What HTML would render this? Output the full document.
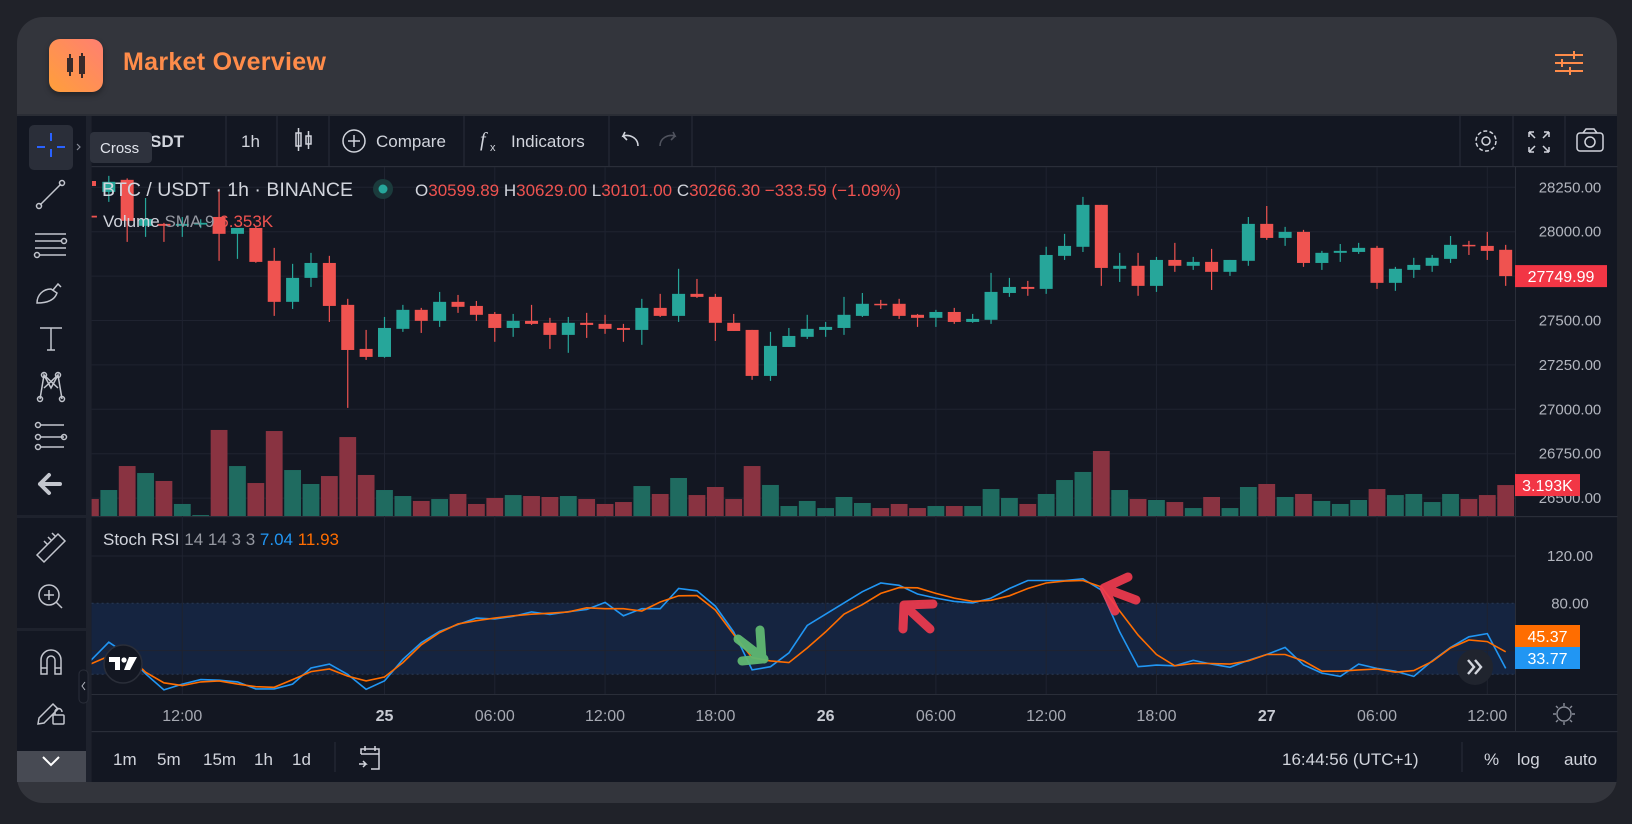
<!DOCTYPE html>
<html><head><meta charset="utf-8"><style>
*{margin:0;padding:0;box-sizing:border-box}
body{width:1632px;height:824px;background:#202229;overflow:hidden;font-family:"Liberation Sans",sans-serif;position:relative}
#card{position:absolute;left:17px;top:17px;width:1600px;height:786px;background:#33353c;border-radius:26px;overflow:hidden}
#chartbg{position:absolute;left:0;top:99px;width:1600px;height:666px;background:#131722}
#icon{position:absolute;left:32px;top:22px;width:54px;height:53px;border-radius:11px;background:linear-gradient(225deg,#ff7f72,#ff9f3a);box-shadow:0 3px 6px rgba(0,0,0,.35)}
#title{position:absolute;left:106px;top:31px;font-size:25px;font-weight:bold;color:#ff8c4a;letter-spacing:.3px}
svg#c{position:absolute;left:0;top:0}
</style></head><body>
<div id="card">
  <div id="icon">
    <svg width="54" height="53"><rect x="18" y="19" width="6" height="14" fill="#3a2a2a"/><line x1="21" y1="15" x2="21" y2="37" stroke="#3a2a2a" stroke-width="2"/><rect x="30" y="17" width="6" height="18" fill="#3a2a2a"/><line x1="33" y1="14" x2="33" y2="39" stroke="#3a2a2a" stroke-width="2"/></svg>
  </div>
  <div id="title">Market Overview</div>
  <div id="chartbg"></div>
</div>
<svg id="c" width="1632" height="824" xmlns="http://www.w3.org/2000/svg" font-family="Liberation Sans, sans-serif">
  <g id="static"></g>
  <g id="dyn"></g>
</svg>
<script>
// ---- data ----
const hours=[-16,-15,-14,-13,-12,-11,-10,-9,-8,-7,-6,-5,-4,-3,-2,-1,0,1,2,3,4,5,6,7,8,9,10,11,12,13,14,15,16,17,18,19,20,21,22,23,24,25,26,27,28,29,30,31,32,33,34,35,36,37,38,39,40,41,42,43,44,45,46,47,48,49,50,51,52,53,54,55,56,57,58,59,60,61];
const opens=[28090,28224,28292,28033,28044,28033,28040,28083,27988,28021,27836,27605,27740,27824,27588,27340,27295,27453,27560,27498,27605,27582,27537,27458,27498,27487,27419,27487,27481,27458,27447,27571,27526,27650,27633,27487,27447,27188,27351,27408,27447,27458,27526,27594,27594,27532,27515,27548,27492,27504,27655,27689,27678,27864,27915,28151,27791,27808,27695,27841,27808,27830,27774,27836,28044,27965,27999,27824,27881,27886,27909,27712,27785,27808,27847,27926,27920,27898];
const highs=[28130,28314,28300,28190,28050,28083,28070,28241,28021,28030,27909,27819,27881,27864,27622,27447,27520,27588,27571,27661,27644,27610,27548,27537,27588,27515,27520,27543,27532,27481,27622,27650,27791,27734,27650,27537,27447,27436,27458,27532,27492,27633,27655,27616,27622,27537,27560,27571,27537,27768,27740,27723,27915,27988,28196,28151,27881,27881,27858,27937,27858,27903,27841,28083,28145,28027,28010,27892,27931,27937,27920,27802,27853,27869,27976,27948,27999,27926];
const lows=[28060,28168,27943,27971,27943,27971,28020,27836,27847,27825,27526,27565,27689,27492,27008,27278,27290,27436,27430,27464,27543,27498,27380,27408,27475,27340,27318,27402,27425,27380,27363,27520,27492,27627,27385,27441,27166,27160,27351,27396,27408,27419,27520,27565,27509,27464,27464,27481,27487,27481,27633,27639,27650,27841,27886,27695,27717,27639,27661,27774,27785,27672,27751,27808,27954,27920,27802,27785,27830,27875,27678,27667,27740,27774,27824,27869,27841,27695];
const closes=[28080,28281,28061,28072,28033,28044,28050,27988,28021,27830,27605,27740,27824,27582,27334,27295,27458,27560,27498,27605,27577,27532,27458,27498,27481,27419,27487,27475,27453,27447,27571,27526,27650,27633,27487,27441,27188,27357,27413,27453,27464,27532,27594,27588,27526,27515,27548,27492,27509,27661,27689,27678,27869,27920,28151,27796,27808,27695,27841,27808,27830,27774,27841,28044,27965,27999,27824,27881,27892,27909,27712,27791,27813,27853,27926,27920,27892,27749.99];
const volumes=[1.75,2.68,5.15,4.43,3.61,1.24,0.1,8.87,5.15,3.40,8.76,4.74,3.30,4.12,8.14,4.23,2.68,2.06,1.55,1.75,2.27,1.24,1.86,2.16,2.06,1.96,2.06,1.75,1.24,1.44,3.09,2.27,3.92,2.16,2.99,1.75,5.15,3.20,1.03,1.55,0.82,1.96,1.34,0.82,1.24,0.82,1.03,1.03,1.03,2.78,1.86,1.24,2.27,3.71,4.54,6.70,2.68,1.75,1.65,1.44,0.82,1.96,0.82,2.99,3.30,1.96,2.27,1.55,1.24,1.65,2.78,2.16,2.27,1.44,2.27,1.75,2.16,3.19];
const stochK=[31.3,47.1,36.7,20.4,6.8,11.7,15.5,15.0,13.6,7.6,7.6,11.7,25.3,28.6,19.9,7.3,14.4,32.7,46.8,56.3,62.1,67.5,66.7,68.9,72.7,70.5,72.9,74.8,80.8,69.4,75.4,75.4,92.5,90.6,77.6,55.8,23.7,26.4,38.1,61.2,70.8,80.3,89.8,97.2,95.2,87.9,84.4,81.6,80.3,84.4,92.5,99.3,99.3,99.3,100.7,91.2,55.8,26.4,27.8,27.2,31.8,28.6,25.9,31.8,36.7,42.7,28.0,21.0,18.2,28.6,25.0,22.6,18.2,31.3,42.7,51.7,54.4,25.0];
const stochD=[28.6,35.4,36.7,21.8,12.8,10.4,13.6,14.4,11.7,9.5,9.0,15.5,22.3,24.5,18.5,14.4,17.7,29.9,44.9,55.2,62.6,65.3,67.5,69.4,70.8,71.6,72.7,76.2,75.4,75.4,73.5,81.1,86.3,86.5,74.3,53.6,34.0,31.3,29.9,42.2,55.8,70.8,78.9,88.4,93.3,93.1,88.4,84.4,81.6,82.5,86.3,92.5,97.2,98.8,99.3,93.9,73.5,53.1,36.7,27.2,29.1,29.1,28.6,31.3,36.7,36.7,31.3,22.6,22.6,23.7,24.5,21.8,23.1,30.8,42.2,49.0,47.6,39.0];
const priceTicks=[28250,28000,27750,27500,27250,27000,26750,26500];
const priceTickLabels=["28250.00","28000.00","27750.00","27500.00","27250.00","27000.00","26750.00","26500.00"];
const stochTicks=[120,80];
const stochTickLabels=["120.00","80.00"];
const timeTickHours=[-11,0,6,12,18,24,30,36,42,48,54,60];
const timeTickLabels=["12:00","25","06:00","12:00","18:00","26","06:00","12:00","18:00","27","06:00","12:00"];
const lastPriceLabel="27749.99";
const lastVolumeLabel="3.193K";
const stochDLabel="45.37";
const stochKLabel="33.77";

// ---- axes ----
const PL=91.6, PR=1515;
function xH(h){return 384.5+h*18.38;}
function yP(p){return 187.3+(28250-p)*0.1776;}
function yV(v){return 516-v*9.7;}
function yS(v){return 603.3+(80-v)*1.183;}

const NS="http://www.w3.org/2000/svg";
const S=document.getElementById('static'), D=document.getElementById('dyn');
function mk(tag,at,parent,txt){const e=document.createElementNS(NS,tag);for(const k in at)e.setAttribute(k,at[k]);if(txt!==undefined)e.textContent=txt;(parent||D).appendChild(e);return e;}

// ---- static chrome ----
S.innerHTML=`
<defs><clipPath id="mainclip"><rect x="91.6" y="167" width="1423.4" height="349"/></clipPath>
<clipPath id="stochclip"><rect x="91.6" y="517" width="1423.4" height="177"/></clipPath></defs>
<rect x="17" y="114" width="1600" height="2" fill="#2a2d35"/>
<rect x="17" y="116" width="69" height="666" fill="#131722"/>
<rect x="86" y="116" width="5.6" height="666" fill="#1e222d"/>
<rect x="17" y="515" width="69" height="3" fill="#1e222d"/>
<rect x="17" y="628" width="69" height="3" fill="#1e222d"/>
<rect x="91.6" y="166" width="1526" height="1.2" fill="#2a2e39"/>
<rect x="91.6" y="516" width="1526" height="1.2" fill="#2a2e39"/>
<rect x="91.6" y="694" width="1526" height="1" fill="#2a2e39"/>
<rect x="91.6" y="731" width="1526" height="1.2" fill="#2a2e39"/>
<rect x="1515" y="167" width="1" height="565" fill="#2a2e39"/>
<rect x="91.6" y="603.3" width="1423.4" height="71" fill="#152440"/>
<g stroke="#2a2e39" stroke-width="1">
 <line x1="226" y1="116" x2="226" y2="166"/><line x1="277" y1="116" x2="277" y2="166"/><line x1="329" y1="116" x2="329" y2="166"/>
 <line x1="464" y1="116" x2="464" y2="166"/><line x1="609" y1="116" x2="609" y2="166"/><line x1="692" y1="116" x2="692" y2="166"/>
 <line x1="1460" y1="116" x2="1460" y2="166"/><line x1="1513" y1="116" x2="1513" y2="166"/><line x1="1565" y1="116" x2="1565" y2="166"/>
 <line x1="335" y1="742" x2="335" y2="772"/><line x1="1462" y1="742" x2="1462" y2="772"/>
</g>
<g fill="#d1d4dc" font-size="17">
 <text x="150" y="147" font-weight="bold">SDT</text>
 <text x="241" y="147">1h</text>
 <text x="376" y="147">Compare</text>
 <text x="511" y="147">Indicators</text>
 <text x="480" y="146" font-style="italic" font-family="Liberation Serif, serif" font-size="20">f</text>
 <text x="490" y="151" font-size="11">x</text>
</g>
<g stroke="#d1d4dc" fill="none" stroke-width="1.5">
 <rect x="296" y="133" width="5" height="13"/><line x1="298.5" y1="128" x2="298.5" y2="151"/><rect x="306" y="136" width="5" height="8"/><line x1="308.5" y1="131" x2="308.5" y2="149"/>
</g>
<g stroke="#d1d4dc" fill="none" stroke-width="1.5"><circle cx="354" cy="141" r="11"/><line x1="348" y1="141" x2="360" y2="141"/><line x1="354" y1="135" x2="354" y2="147"/></g>
<path d="M638 146 C638 138 630 134 623 136 L625 132 M623 136 L627 140" stroke="#d1d4dc" fill="none" stroke-width="1.6"/>
<path d="M660 146 C660 138 668 134 675 136 L673 132 M675 136 L671 140" stroke="#50535e" fill="none" stroke-width="1.6"/>
<g stroke="#d1d4dc" fill="none" stroke-width="1.5"><circle cx="1486" cy="141" r="4"/><circle cx="1486" cy="141" r="10" stroke-dasharray="4 2.3"/></g>
<g stroke="#d1d4dc" fill="none" stroke-width="1.5">
 <path d="M1529 132 h5 M1529 132 v5 M1529 132 l6 6 M1549 132 h-5 M1549 132 v5 M1549 132 l-6 6 M1529 152 h5 M1529 152 v-5 M1529 152 l6 -6 M1549 152 h-5 M1549 152 v-5 M1549 152 l-6 -6"/></g>
<g stroke="#d1d4dc" fill="none" stroke-width="1.5"><rect x="1577" y="133" width="26" height="18" rx="3"/><path d="M1583 133 l3 -4 h8 l3 4"/><circle cx="1590" cy="142" r="5"/></g>
<rect x="29" y="125" width="44" height="45" rx="5" fill="#2a2e39"/>
<g stroke="#2962ff" stroke-width="2"><line x1="51" y1="133" x2="51" y2="141"/><line x1="51" y1="149" x2="51" y2="157"/><line x1="37" y1="147" x2="45" y2="147"/><line x1="57" y1="147" x2="65" y2="147"/></g>
<path d="M77 144 l3 3 l-3 3" stroke="#8a8e99" fill="none" stroke-width="1.2"/>
<g stroke="#c3c6ce" fill="none" stroke-width="1.5">
 <g><line x1="40" y1="205" x2="61" y2="184"/><circle cx="39" cy="206" r="2.5"/><circle cx="62" cy="183" r="2.5"/></g>
 <g><line x1="35" y1="234" x2="66" y2="234"/><line x1="35" y1="241" x2="62" y2="241"/><line x1="35" y1="248" x2="66" y2="248"/><line x1="40" y1="255" x2="66" y2="255"/><circle cx="64" cy="241" r="2.5"/><circle cx="37" cy="255" r="2.5"/></g>
 <path d="M37 303 c0-8 6-14 14-14 l6 4 c-2 6-8 10-20 10 z M53 290 l5-6 l3 3"/>
 <g><line x1="40" y1="328" x2="62" y2="328"/><line x1="51" y1="328" x2="51" y2="350"/><line x1="47" y1="350" x2="55" y2="350"/></g>
 <g><path d="M40 399 L44 375 L51 388 L58 375 L62 399 M44 375 L58 388 M58 375 L44 388"/><circle cx="40" cy="399" r="2.5"/><circle cx="62" cy="399" r="2.5"/><circle cx="44" cy="375" r="2.5"/><circle cx="58" cy="375" r="2.5"/></g>
 <g><line x1="40" y1="425" x2="64" y2="425"/><line x1="40" y1="437" x2="64" y2="437"/><line x1="40" y1="447" x2="64" y2="447"/><circle cx="38" cy="425" r="2.5"/><circle cx="38" cy="437" r="2.5"/><circle cx="38" cy="447" r="2.5"/><circle cx="64" cy="437" r="2.5"/></g>
 <g><path d="M37 555 L58 534 L65 541 L44 562 Z M44 541 l3 3 M48 537 l3 3 M52 533 l3 3"/></g>
 <g><circle cx="49" cy="595" r="10"/><line x1="56" y1="602" x2="62" y2="608"/><line x1="44" y1="595" x2="54" y2="595"/><line x1="49" y1="590" x2="49" y2="600"/></g>
 <g><path d="M41 674 v-14 a10 10 0 0 1 20 0 v14 h-6 v-14 a4 4 0 0 0 -8 0 v14 z M41 668 h6 M55 668 h6"/></g>
 <g><path d="M39 718 l14-14 l5 5 l-14 14 l-6 1 z"/><rect x="53" y="715" width="11" height="9" rx="1"/><path d="M55 715 v-3 a3.5 3.5 0 0 1 7 0"/></g>
</g>
<path d="M40 484 l9-9 M40 484 l9 9 M40 484 h20" stroke="#c3c6ce" stroke-width="4" fill="none" stroke-linecap="round"/>
<rect x="17" y="751" width="69" height="31" fill="#474a53"/>
<path d="M43 757 l8 8 l8 -8" stroke="#fff" stroke-width="2" fill="none"/>
<rect x="79" y="670" width="9" height="33" rx="4" fill="#131722" stroke="#2a2e39"/>
<path d="M85 682 l-3 4 l3 4" stroke="#b2b5be" fill="none"/>
<rect x="90" y="132" width="62" height="31" rx="4" fill="#2e323d"/>
<text x="100" y="153" fill="#e0e3eb" font-size="15">Cross</text>
<g fill="#d1d4dc" font-size="17">
 <text x="113" y="765">1m</text>
 <text x="157" y="765">5m</text>
 <text x="203" y="765">15m</text>
 <text x="254" y="765">1h</text>
 <text x="292" y="765">1d</text>
 <text x="1282" y="765">16:44:56 (UTC+1)</text>
 <text x="1484" y="765">%</text>
 <text x="1517" y="765">log</text>
 <text x="1564" y="765">auto</text>
</g>
<g stroke="#d1d4dc" fill="none" stroke-width="1.5"><path d="M361 754 v-5 h18 v20 h-8 M361 754 h18 M365 746 v5 M375 746 v5 M359 764 h7 l-3 -3 M366 764 l-3 3"/></g>
<g stroke="#8a8e99" fill="none" stroke-width="1.4"><circle cx="1564" cy="714" r="7"/><path d="M1564 703 v3 M1564 722 v3 M1553 714 h3 M1572 714 h3 M1556 706 l2 2 M1570 720 l2 2 M1572 706 l-2 2 M1556 722 l2 -2"/></g>
`;

// ---- grid ----
priceTicks.forEach((p,i)=>{
  const l=mk('line',{x1:PL,x2:PR,y1:yP(p),y2:yP(p),stroke:'#1f2330','stroke-width':1});
  
  
  const t=mk('text',{x:1570,y:yP(p)+5,fill:'#b2b5be','font-size':15,'text-anchor':'middle'},D,priceTickLabels[i]);
  
  
});
[120,40].forEach(v=>{
  const l=mk('line',{x1:PL,x2:PR,y1:yS(v),y2:yS(v),stroke:'#1f2330','stroke-width':1});
  
  
});
[80,20].forEach(v=>{
  const l=mk('line',{x1:PL,x2:PR,y1:yS(v),y2:yS(v),stroke:'#2a3a55','stroke-width':1,'stroke-dasharray':'2 3'});
  
  
});
stochTicks.forEach((v,i)=>{
  const t=mk('text',{x:1570,y:yS(v)+5,fill:'#b2b5be','font-size':15,'text-anchor':'middle'},D,stochTickLabels[i]);
  
  
});
timeTickHours.forEach((h,i)=>{
  const l=mk('line',{x1:xH(h),x2:xH(h),y1:167,y2:694,stroke:'#1f2330','stroke-width':1});
  
  
  const day=/^\d\d$/.test(timeTickLabels[i]);
  const t=mk('text',{x:xH(h),y:721,fill:day?'#c8cbd3':'#a6a9b2','font-size':16,'font-weight':day?'bold':'normal','text-anchor':'middle'},D,timeTickLabels[i]);
  
  
});

// ---- volume + candles ----
const gm=mk('g',{'clip-path':'url(#mainclip)'});


hours.forEach((h,i)=>{
  const up=closes[i]>=opens[i];
  const x=xH(h);
  const vb=mk('rect',{x:x-8.4,y:yV(volumes[i]),width:16.8,height:516-yV(volumes[i]),fill:up?'#1f6b60':'#893341'},gm);
  
  
});
hours.forEach((h,i)=>{
  const up=closes[i]>=opens[i];
  const col=up?'#26a69a':'#ef5350';
  const x=xH(h);
  const w=mk('line',{x1:x,x2:x,y1:yP(highs[i]),y2:yP(lows[i]),stroke:col,'stroke-width':1.2},gm);
  
  
  const top=yP(Math.max(opens[i],closes[i])),bot=yP(Math.min(opens[i],closes[i]));
  const b=mk('rect',{x:x-6.5,y:top,width:13,height:Math.max(1.5,bot-top),fill:col},gm);
  
  
});

// ---- stoch ----
const gs=mk('g',{'clip-path':'url(#stochclip)'});


const pk=hours.map((h,i)=>xH(h).toFixed(1)+','+yS(stochK[i]).toFixed(1)).join(' ');
const pd=hours.map((h,i)=>xH(h).toFixed(1)+','+yS(stochD[i]).toFixed(1)).join(' ');
const lk=mk('polyline',{points:pk,fill:'none',stroke:'#2196f3','stroke-width':1.6},gs);


const ld=mk('polyline',{points:pd,fill:'none',stroke:'#ff6d00','stroke-width':1.6},gs);



// ---- legends ----
const leg=mk('g',{});
leg.innerHTML=`
<rect x="92" y="181" width="4" height="5" fill="#ef5350"/>
<text x="102" y="196" font-size="19.5" fill="#d1d4dc">BTC / USDT · 1h · BINANCE</text>
<circle cx="383" cy="189" r="10" fill="#1b3b3c"/><circle cx="383" cy="189" r="4.5" fill="#26a69a"/>
<text x="415" y="196" font-size="17" fill="#d1d4dc">O<tspan fill="#ef5350">30599.89</tspan> H<tspan fill="#ef5350">30629.00</tspan> L<tspan fill="#ef5350">30101.00</tspan> C<tspan fill="#ef5350">30266.30</tspan> <tspan fill="#ef5350">−333.59 (−1.09%)</tspan></text>
<text x="103" y="227" font-size="17" fill="#d1d4dc">Volume <tspan fill="#9598a1">SMA 9</tspan> <tspan fill="#ef5350">6.353K</tspan></text>
<text x="103" y="545" font-size="17" fill="#d1d4dc">Stoch RSI <tspan fill="#9598a1">14 14 3 3</tspan> <tspan fill="#2196f3">7.04</tspan> <tspan fill="#ff6d00">11.93</tspan></text>`;



// ---- price tags ----
function tag(y,txt,col,w,name){
  const g=mk('g',{});
  
  
  mk('rect',{x:1515,y:y-11,width:w,height:22,fill:col},g);
  mk('text',{x:1515+w/2,y:y+6,fill:'#fff','font-size':16,'text-anchor':'middle'},g,txt);
}
tag(yP(closes[closes.length-1]),lastPriceLabel,'#f23645',92,'last-price-tag');
tag(yV(volumes[volumes.length-1]),lastVolumeLabel,'#f23645',65,'last-volume-tag');
tag(636,stochDLabel,'#ff6d00',65,'stoch-d-tag');
tag(658,stochKLabel,'#2196f3',65,'stoch-k-tag');

// ---- overlays ----
const ov=mk('g',{});
ov.innerHTML=`
<g><circle cx="123" cy="664" r="19" fill="#131722" stroke="#2a2e39" stroke-width="1.5"/>
<path d="M109 657 h11 v13 h-5 v-8 h-6 z" fill="#fff"/><circle cx="124" cy="660" r="2.6" fill="#fff"/><path d="M129 657 h8 l-7 13 h-6 z" fill="#fff"/></g>
<g><circle cx="1475" cy="667" r="18" fill="#20242e"/>
<path d="M1468 660 l6 7 l-6 7 M1475 660 l6 7 l-6 7" stroke="#d1d4dc" stroke-width="2.4" fill="none"/></g>
<g stroke="#5fb872" stroke-width="9" stroke-linecap="round" stroke-linejoin="round" fill="none" opacity="0.95">
<path d="M738 639 L764 659 M760 630 L762 659 L742 661"/></g>
<g stroke="#ef3b4e" stroke-width="9" stroke-linecap="round" stroke-linejoin="round" fill="none" opacity="0.92">
<path d="M930 629 L904 605 M933 604 L904 605 L903 629"/></g>
<g stroke="#ef3b4e" stroke-width="9" stroke-linecap="round" stroke-linejoin="round" fill="none" opacity="0.92">
<path d="M1136 600 L1104 588 M1128 577 L1104 588 L1115 611"/></g>`;



const hs=mk('g',{stroke:'#ff8c4a','stroke-width':2,fill:'none'});


hs.innerHTML='<line x1="1555" y1="55" x2="1583" y2="55"/><line x1="1555" y1="63" x2="1583" y2="63"/><line x1="1555" y1="71" x2="1583" y2="71"/><line x1="1574" y1="51" x2="1574" y2="59"/><line x1="1562" y1="59" x2="1562" y2="67"/><line x1="1570" y1="67" x2="1570" y2="75"/>';
</script>
</body></html>
